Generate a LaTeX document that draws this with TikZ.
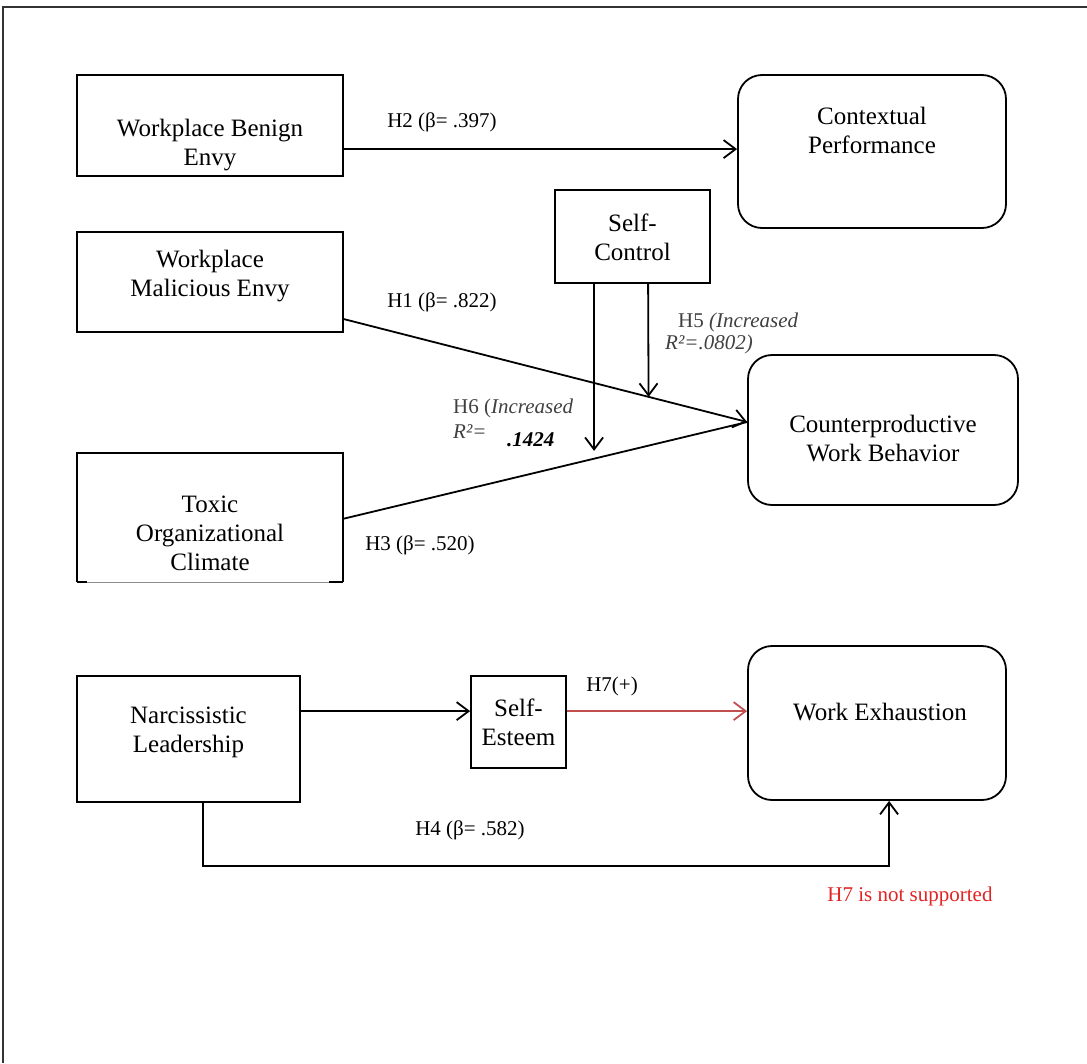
\documentclass[tikz,border=0pt]{standalone}
\usepackage{fontspec}
\setmainfont{Liberation Serif}
\usetikzlibrary{arrows.meta,calc}
\definecolor{arrred}{RGB}{192,80,77}
\definecolor{txtred}{RGB}{225,35,35}
\begin{document}
\begin{tikzpicture}[x=1pt,y=-1pt,
  box/.style={draw, line width=1.8pt, inner sep=0pt},
  rbox/.style={box, rounded corners=24pt},
  txt/.style={font=\fontsize{25}{29}\selectfont, align=center, inner sep=0pt},
  lbl/.style={font=\fontsize{21}{25}\selectfont, inner sep=0pt},
  ital/.style={lbl, text=black!75},
  conn/.style={line width=1.8pt, -{Straight Barb[length=12pt,width=18pt,line width=1.8pt]}},
]
\useasboundingbox (0,0) rectangle (1087,1063);
\draw[line width=1.8pt, black!80] (3,1063) -- (3,7) -- (1087,7);

% boxes
\node[box, minimum width=266pt, minimum height=101pt] (benign) at (210,125.5) {};
\node[txt] (benignT) at (210,145) {Workplace Benign\\Envy};
\node[rbox, minimum width=268pt, minimum height=153pt] (cp) at (872,151.5) {};
\node[txt] (cpT) at (872,130) {Contextual\\Performance};
\node[box, minimum width=155pt, minimum height=93pt] (sc) at (632.5,236.5) {};
\node[txt] (scT) at (632.5,237) {Self-\\Control};
\node[box, minimum width=266pt, minimum height=100pt] (malic) at (210,282) {};
\node[txt] (malicT) at (210,276) {Workplace\\Malicious Envy};
\node[rbox, minimum width=270pt, minimum height=150pt] (cwb) at (883,430) {};
\node[txt] (cwbT) at (883,439) {Counterproductive\\Work Behavior};
\node[minimum width=266pt, minimum height=129pt, inner sep=0pt] (toxic) at (210,517.5) {};
\draw[line width=1.8pt] (toxic.south west) -- (toxic.north west) -- (toxic.north east) -- (toxic.south east);
\draw[line width=0.8pt, black!45] (toxic.south west) -- (toxic.south east);
\draw[line width=1.8pt] (toxic.south west) -- ++(10,0);
\draw[line width=1.8pt] (toxic.south east) -- ++(-14,0);
\node[txt] (toxicT) at (210,533) {Toxic\\Organizational\\Climate};
\node[box, minimum width=223pt, minimum height=126pt] (narc) at (188.5,739) {};
\node[txt] (narcT) at (188.5,732) {Narcissistic\\Leadership};
\node[box, minimum width=95pt, minimum height=92pt] (se) at (518.5,722) {};
\node[txt] (seT) at (518.5,722) {Self-\\Esteem};
\node[rbox, minimum width=258pt, minimum height=154pt] (we) at (877,723) {};
\node[txt] (weT) at (880,712) {Work Exhaustion};

% connectors
\coordinate (h2s) at ($(benign.north east)+(0,75)$);
\coordinate (h2e) at ($(cp.north west)+(0,75)$);
\draw[conn] (h2s) -- (h2e);
\coordinate (h1s) at ($(malic.north east)+(0,88)$);
\coordinate (cwbin) at ($(cwb.west)+(0,-8)$);
\draw[conn] (h1s) -- (cwbin);
\coordinate (h3s) at ($(toxic.north east)+(0,66)$);
\draw[line width=1.8pt] (h3s) -- (cwbin);
\coordinate (scL) at ($(sc.south west)+(40,0)$);
\coordinate (scR) at ($(sc.south west)+(94,0)$);
\draw[conn] (scL) -- ($(scL)+(0,167)$);
\draw[conn] (scR) -- ($(h1s)!0.7556!(cwbin)$);
\coordinate (n2s) at ($(narc.north east)+(0,36)$);
\coordinate (s2w) at ($(se.north west)+(0,36)$);
\draw[conn] (n2s) -- (s2w);
\coordinate (ses) at ($(se.north east)+(0,36)$);
\coordinate (wein) at ($(we.north west)+(0,66)$);
\draw[conn, draw=arrred] (ses) -- (wein);
\coordinate (h4s) at ($(narc.south west)+(127,0)$);
\coordinate (h4e) at ($(we.south west)+(142,0)$);
\draw[conn] (h4s) -- ($(h4s)+(0,63)$) -| (h4e);

% labels
\node[lbl] (lh2) at (442,122) {H2 (β= .397)};
\node[lbl] (lh1) at (442,302) {H1 (β= .822)};
\node[lbl] (lh3) at (420,545) {H3 (β= .520)};
\node[ital, anchor=west] (lh5a) at (678,322) {H5 \textit{(Increased}};
\node[ital, anchor=west] (lh5b) at (665,344) {\textit{R²=.0802)}};
\node[ital, anchor=west] (lh6a) at (453,408) {H6 (\textit{Increased}};
\node[ital, anchor=west] (lh6b) at (453,432) {\textit{R²=}};
\node[lbl, anchor=west] (lh6c) at (507,440) {\textbf{\textit{.1424}}};
\node[lbl] (lh7) at (612,686) {H7(+)};
\node[lbl] (lh4) at (470,830) {H4 (β= .582)};
\node[lbl, text=txtred] (lns) at (910,896) {H7 is not supported};
\end{tikzpicture}
\end{document}
